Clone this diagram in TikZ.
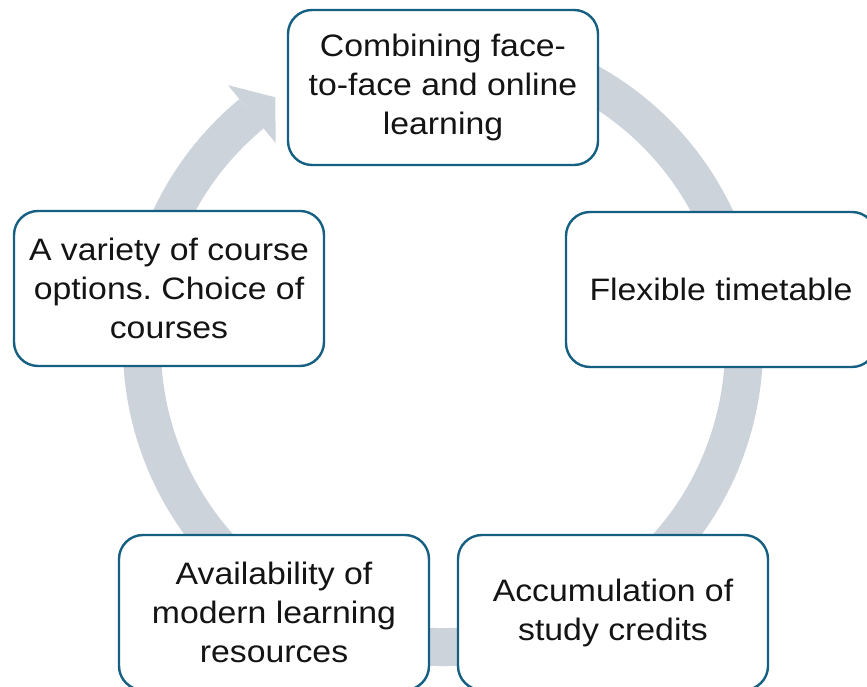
\documentclass[tikz,border=0pt]{standalone}
\usepackage{fontspec}
\setmainfont[FakeStretch=1.09]{Liberation Sans}
\frenchspacing
\definecolor{ringgray}{RGB}{205,211,219}
\definecolor{boxblue}{RGB}{21,96,130}
\definecolor{txt}{RGB}{20,20,20}
\begin{document}
\begin{tikzpicture}[x=1pt,y=1pt,
  stagebox/.style={draw=boxblue, line width=2.4pt, fill=white, rounded corners=24pt,
    minimum width=310pt, minimum height=155pt, align=center, text=txt,
    font=\fontsize{31}{39}\selectfont\frenchspacing, inner sep=0pt}]
\useasboundingbox (0,0) rectangle (867,687);
\clip (0,0) rectangle (867,687);
\fill[white] (0,0) rectangle (867,687);
\coordinate (c) at (443,341);
% ring
\draw[ringgray, line width=38pt, line cap=butt] ([shift={(75:301)}]c) arc[start angle=75, end angle=-230.5, radius=301];
\fill[ringgray] ([shift={(129.5:338)}]c) -- ([shift={(124:300)}]c) -- ([shift={(129.5:263)}]c) -- cycle;
% boxes
\node[stagebox] (top) at (443,599.5) {Combining face-\\to-face and online\\learning};
\node[stagebox] (right) at (721,397.5) {Flexible timetable};
\node[stagebox] (brt) at (613,74.5) {Accumulation of\\study credits};
\node[stagebox] (blt) at (274,74.5) {Availability of\\modern learning\\resources};
\node[stagebox] (left) at (169,398.5) {A variety of course\\options. Choice of\\courses};
\end{tikzpicture}
\end{document}
